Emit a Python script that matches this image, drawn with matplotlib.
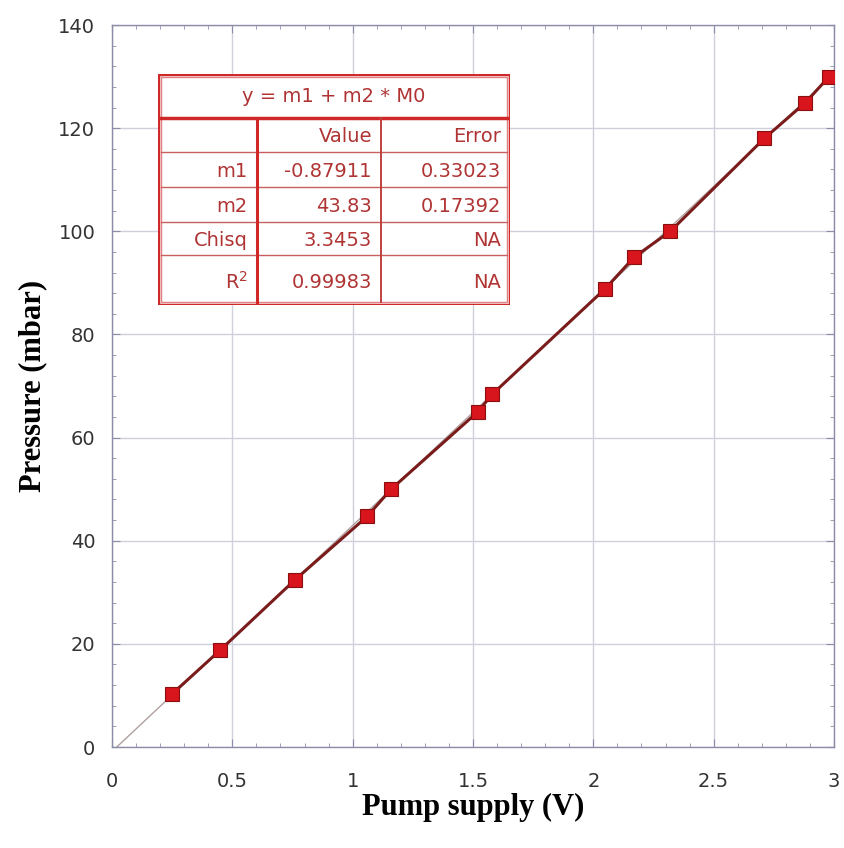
import numpy as np
import matplotlib.pyplot as plt
from matplotlib.ticker import MultipleLocator
from matplotlib.patches import Rectangle

# 测量数据
pump_v = [0.25, 0.45, 0.76, 1.06, 1.16, 1.52, 1.58, 2.05, 2.17, 2.32, 2.71, 2.88, 2.98]
pressure = [10.3, 18.8, 32.4, 44.7, 50.0, 65.0, 68.4, 88.9, 95.0, 100.0, 118.0, 124.9, 130.0]

# 拟合参数
m1 = -0.87911
m2 = 43.83
fit_x = [0.02, 3.0]

# 表格内容
table_title = "y = m1 + m2 * M0"
table_header = ["", "Value", "Error"]
table_rows = [["m1", "-0.87911", "0.33023"],
              ["m2", "43.83", "0.17392"],
              ["Chisq", "3.3453", "NA"],
              ["R$^2$", "0.99983", "NA"]]

fig = plt.figure(figsize=(8.45, 8.48), dpi=100)
ax = fig.add_axes([0.1325, 0.1191, 0.8545, 0.8514])

fx = np.array(fit_x)
ax.plot(fx, m1 + m2 * fx, color='#b0a0a0', lw=1.0, zorder=2)
ax.plot(pump_v, pressure, color='#7a1c1c', lw=2.2, zorder=3,
        marker='s', markersize=9.5, markerfacecolor='#d8141c',
        markeredgecolor='#8a1010', markeredgewidth=0.8)

ax.set_xlim(0, 3)
ax.set_ylim(0, 140)
ax.xaxis.set_major_locator(MultipleLocator(0.5))
ax.xaxis.set_minor_locator(MultipleLocator(0.1))
ax.yaxis.set_major_locator(MultipleLocator(20))
ax.yaxis.set_minor_locator(MultipleLocator(4))
ax.set_xticks([0, 0.5, 1, 1.5, 2, 2.5, 3])
ax.set_xticklabels(['0', '0.5', '1', '1.5', '2', '2.5', '3'])
ax.grid(True, which='major', color='#cfd0dc', lw=1.0)
ax.set_axisbelow(True)
for s in ax.spines.values():
    s.set_color('#8c8ca8')
    s.set_linewidth(1.0)
ax.tick_params(which='both', direction='in', top=True, right=True,
               colors='#8c8ca8', labelcolor='#333333')
ax.tick_params(which='major', length=6, labelsize=14)
ax.tick_params(axis='x', which='major', pad=18)
ax.tick_params(axis='y', which='major', pad=12)
ax.tick_params(which='minor', length=3)
for lab in ax.get_xticklabels() + ax.get_yticklabels():
    lab.set_family('DejaVu Sans')

ax.set_xlabel('Pump supply (V)', family='Liberation Serif', fontweight='bold',
              fontsize=22)
ax.set_ylabel('Pressure (mbar)', family='Liberation Serif', fontweight='bold',
              fontsize=22, labelpad=8)
ax.xaxis.set_label_coords(0.5, -0.063)

# 表格（手动画线）
tw, th = 352, 231
tax = fig.add_axes([158 / 845, 1 - 305 / 848, tw / 845, th / 848])
tax.set_xlim(0, tw)
tax.set_ylim(th, 0)
tax.axis('off')
red = '#d02828'
txt = '#b03434'
tax.add_patch(Rectangle((0, 0), tw, th, fill=True, facecolor='white',
                        edgecolor=red, lw=2.5, zorder=1))
tax.add_patch(Rectangle((3, 3), tw - 6, th - 6, fill=False,
                        edgecolor='#e08080', lw=1.0, zorder=2))
col_x = [0, 99, 223, tw]
row_y = [0, 44, 78, 113, 148, 181, th]
tax.plot([3, tw - 3], [row_y[1], row_y[1]], color=red, lw=2.5)
for yy in row_y[2:-1]:
    tax.plot([3, tw - 3], [yy, yy], color='#c86060', lw=1.0)
tax.plot([col_x[1], col_x[1]], [row_y[1], th - 3], color=red, lw=2.2)
tax.plot([col_x[2], col_x[2]], [row_y[1], th - 3], color='#c04040', lw=1.4)

tax.text(tw / 2, row_y[1] / 2, table_title, ha='center', va='center',
         color=txt, fontsize=14, family='DejaVu Sans')
rows = [table_header] + table_rows
for i, row in enumerate(rows):
    yc = (row_y[i + 1] + row_y[i + 2]) / 2 + 2
    for j, cell in enumerate(row):
        tax.text(col_x[j + 1] - 9, yc, cell, ha='right', va='center',
                 color=txt, fontsize=14, family='DejaVu Sans')

fig.savefig('out.png', dpi=100)
